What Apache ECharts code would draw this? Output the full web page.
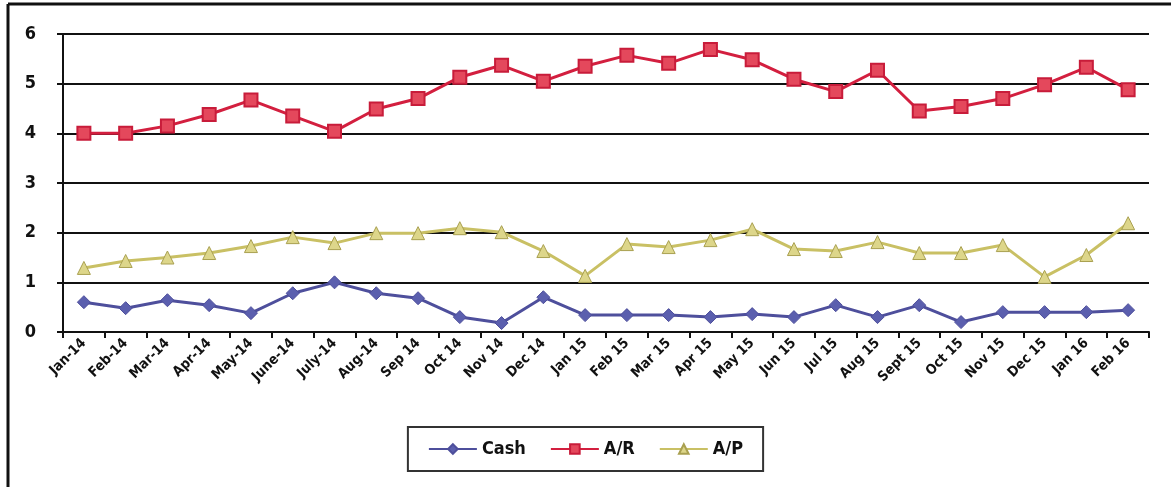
<!DOCTYPE html>
<html><head><meta charset="utf-8">
<script src="https://cdn.jsdelivr.net/npm/echarts@6/dist/echarts.min.js"></script>
<style>html,body{margin:0;padding:0;background:#fff}#c{width:1171px;height:487px}</style>
</head><body><div id="c"></div>
<script>
const categories = ['Jan-14','Feb-14','Mar-14','Apr-14','May-14','June-14','July-14','Aug-14','Sep 14','Oct 14','Nov 14','Dec 14','Jan 15','Feb 15','Mar 15','Apr 15','May 15','Jun 15','Jul 15','Aug 15','Sept 15','Oct 15','Nov 15','Dec 15','Jan 16','Feb 16'];
const cash = [0.60,0.48,0.64,0.54,0.38,0.78,1.00,0.78,0.68,0.30,0.18,0.70,0.34,0.34,0.34,0.30,0.36,0.30,0.54,0.30,0.54,0.20,0.40,0.40,0.40,0.44];
const ar = [4.00,4.00,4.15,4.38,4.67,4.35,4.04,4.49,4.70,5.13,5.37,5.05,5.35,5.57,5.41,5.69,5.48,5.09,4.84,5.27,4.45,4.54,4.70,4.98,5.33,4.88];
const ap = [1.29,1.43,1.50,1.59,1.73,1.91,1.79,1.99,1.99,2.09,2.01,1.63,1.13,1.77,1.71,1.85,2.07,1.67,1.63,1.81,1.59,1.59,1.75,1.11,1.55,2.19];
const yTicks = [0,1,2,3,4,5,6];

const chart = echarts.init(document.getElementById('c'));
const font = '"DejaVu Sans Condensed", "DejaVu Sans", sans-serif';
chart.setOption({
  animation:false,
  backgroundColor:'#fff',
  grid:{left:63,right:22,top:34,bottom:155,containLabel:false},
  legend:{
    data:['Cash','A/R','A/P'],
    left:'center', top:427,
    itemWidth:48, itemHeight:12, itemGap:24,
    borderColor:'#333', borderWidth:2, padding:[13,20,13,20],
    textStyle:{fontFamily:font,fontWeight:'bold',fontSize:18,color:'#111'}
  },
  xAxis:{
    type:'category', data:categories, boundaryGap:true,
    axisLine:{lineStyle:{color:'#111',width:2}},
    axisTick:{show:true,length:6,lineStyle:{color:'#111',width:2}},
    axisLabel:{rotate:45,interval:0,fontFamily:font,fontWeight:'bold',fontSize:14,color:'#111',margin:9}
  },
  yAxis:{
    type:'value', min:yTicks[0], max:yTicks[yTicks.length-1], interval:1,
    axisLine:{show:true,lineStyle:{color:'#111',width:2}},
    axisTick:{show:true,length:6,lineStyle:{color:'#111',width:2}},
    axisLabel:{fontFamily:font,fontWeight:'bold',fontSize:18,color:'#111',margin:27},
    splitLine:{lineStyle:{color:'#111',width:2}}
  },
  series:[
    {name:'Cash',type:'line',data:cash,symbol:'diamond',symbolSize:13,
     lineStyle:{color:'#4e4f9c',width:3},itemStyle:{color:'#5b5fae',borderColor:'#4e4f9c',borderWidth:1}},
    {name:'A/R',type:'line',data:ar,symbol:'rect',symbolSize:13,
     lineStyle:{color:'#d31f3f',width:3},itemStyle:{color:'#e4485c',borderColor:'#c81c3a',borderWidth:2}},
    {name:'A/P',type:'line',data:ap,symbol:'triangle',symbolSize:13,
     lineStyle:{color:'#c9c064',width:3},itemStyle:{color:'#ddd68a',borderColor:'#a9a050',borderWidth:1}}
  ],
  graphic:[
    {type:'line',shape:{x1:8,y1:4,x2:8,y2:487},style:{stroke:'#111',lineWidth:3}},
    {type:'line',shape:{x1:8,y1:4,x2:1171,y2:4},style:{stroke:'#111',lineWidth:3}}
  ]
});
</script></body></html>
